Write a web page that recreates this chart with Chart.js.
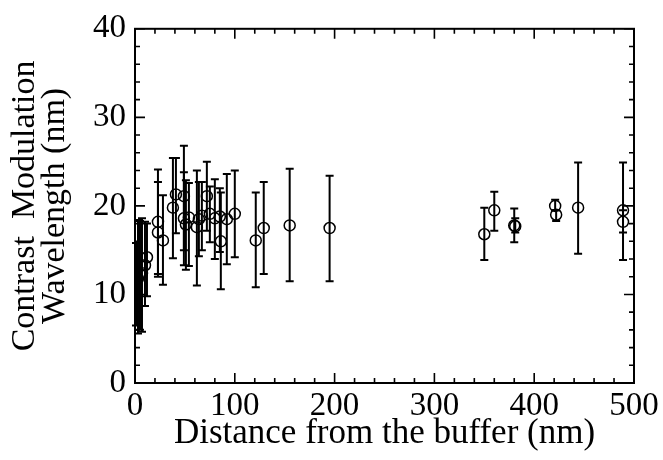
<!DOCTYPE html>
<html>
<head>
<meta charset="utf-8">
<script src="https://cdn.jsdelivr.net/npm/chart.js@4"></script>
<style>
  html, body { margin: 0; padding: 0; background: #fff; }
  #wrap { width: 663px; height: 460px; }
</style>
</head>
<body>
<div id="wrap"><canvas id="chart" width="663" height="460"></canvas></div>
<script>
// Data
const distance = [1, 3, 5, 7, 10, 12, 23, 23, 28, 38, 41, 49, 49, 51, 54, 62, 64, 67, 72, 75,
                  80, 85, 86, 92, 100, 121, 129, 155, 195, 350, 360, 380, 381, 421, 422, 444, 489, 489];
const wavelength = [12.0, 11.8, 12.3, 12.4, 13.3, 14.2, 18.2, 17.0, 16.1, 19.8, 21.3, 21.1, 18.6, 17.9, 18.7, 17.6, 18.5, 18.9, 21.1, 19.1,
                    18.6, 18.8, 16.0, 18.5, 19.1, 16.1, 17.5, 17.8, 17.5, 16.8, 19.5, 17.8, 17.7, 20.0, 19.0, 19.8, 19.5, 18.2];
const errLow = [6.5, 5.6, 6.0, 5.8, 8.7, 9.8, 12.3, 12.0, 11.1, 14.1, 16.9, 15.0, 13.3, 12.8, 13.2, 11.0, 14.3, 15.0, 17.2, 15.9,
                14.0, 14.8, 10.6, 13.4, 14.2, 10.8, 12.3, 11.5, 11.5, 13.9, 17.2, 15.9, 17.0, 19.5, 18.3, 14.6, 17.0, 13.9];
const errHigh = [15.8, 18.4, 18.3, 18.6, 18.2, 18.0, 24.1, 22.7, 21.2, 25.4, 25.4, 26.8, 23.8, 22.9, 22.6, 24.0, 22.7, 22.7, 25.0, 22.2,
                 23.0, 22.0, 21.5, 23.6, 24.0, 21.5, 22.7, 24.2, 23.4, 19.8, 21.6, 19.7, 18.6, 20.7, 19.5, 24.9, 24.9, 19.5];

const xTicks = [0, 100, 200, 300, 400, 500];
const yTicks = [0, 10, 20, 30, 40];
const xMinorStep = 20;
const yMinorStep = 2;

const points = distance.map((x, i) => ({ x: x, y: wavelength[i] }));
const serif = "'Liberation Serif', 'DejaVu Serif', serif";

// error bars, drawn through the chart scales
const errorBars = {
    id: 'errorBars',
    beforeDatasetsDraw(chart) {
        const { ctx, scales: { x, y } } = chart;
        ctx.save();
        ctx.strokeStyle = '#000';
        ctx.lineWidth = 2;
        distance.forEach((d, i) => {
            const px = x.getPixelForValue(d);
            const top = y.getPixelForValue(errHigh[i]);
            const bot = y.getPixelForValue(errLow[i]);
            ctx.beginPath();
            ctx.moveTo(px, top); ctx.lineTo(px, bot);
            ctx.moveTo(px - 4, top); ctx.lineTo(px + 4, top);
            ctx.moveTo(px - 4, bot); ctx.lineTo(px + 4, bot);
            ctx.stroke();
        });
        ctx.restore();
    }
};

// box with inward ticks on all four sides
const frame = {
    id: 'frame',
    afterDraw(chart) {
        const { ctx, chartArea: a, scales: { x, y } } = chart;
        ctx.save();
        ctx.strokeStyle = '#000';
        ctx.lineWidth = 2;
        ctx.strokeRect(a.left, a.top, a.right - a.left, a.bottom - a.top);
        ctx.lineWidth = 1.6;
        ctx.beginPath();
        for (let v = x.min; v <= x.max; v += xMinorStep) {
            const len = xTicks.includes(v) ? 10 : 5;
            const px = x.getPixelForValue(v);
            ctx.moveTo(px, a.bottom); ctx.lineTo(px, a.bottom - len);
            ctx.moveTo(px, a.top); ctx.lineTo(px, a.top + len);
        }
        for (let v = y.min; v <= y.max; v += yMinorStep) {
            const len = yTicks.includes(v) ? 10 : 5;
            const py = y.getPixelForValue(v);
            ctx.moveTo(a.left, py); ctx.lineTo(a.left + len, py);
            ctx.moveTo(a.right, py); ctx.lineTo(a.right - len, py);
        }
        ctx.stroke();
        ctx.restore();
    }
};

new Chart(document.getElementById('chart'), {
    type: 'scatter',
    data: {
        datasets: [{
            data: points,
            pointStyle: 'circle',
            pointRadius: 5.5,
            pointHoverRadius: 5.5,
            pointBorderWidth: 1.5,
            borderColor: '#000',
            backgroundColor: 'rgba(0,0,0,0)'
        }]
    },
    options: {
        responsive: false,
        animation: false,
        events: [],
        layout: { padding: { top: 17, right: 29, left: 0, bottom: 0 } },
        plugins: { legend: { display: false }, tooltip: { enabled: false } },
        scales: {
            x: {
                type: 'linear',
                min: 0, max: 500,
                afterBuildTicks: s => { s.ticks = xTicks.map(v => ({ value: v })); },
                afterFit: s => { s.height = 77; },
                grid: { display: false, drawTicks: false },
                border: { display: false },
                ticks: { color: '#000', padding: 4, maxRotation: 0, font: { family: serif, size: 33 } },
                title: {
                    display: true,
                    text: 'Distance from the buffer (nm)',
                    color: '#000',
                    font: { family: serif, size: 35, lineHeight: 1 },
                    padding: { top: 0, bottom: 9 }
                }
            },
            y: {
                type: 'linear',
                min: 0, max: 40,
                afterBuildTicks: s => { s.ticks = yTicks.map(v => ({ value: v })); },
                afterFit: s => { s.width = 135; },
                grid: { display: false, drawTicks: false },
                border: { display: false },
                ticks: { color: '#000', padding: 9, font: { family: serif, size: 33 } },
                title: {
                    display: true,
                    text: ['Contrast  Modulation', 'Wavelength (nm)'],
                    color: '#000',
                    font: { family: serif, size: 34, lineHeight: 0.88 },
                    padding: { top: 10, bottom: 0 }
                }
            }
        }
    },
    plugins: [errorBars, frame]
});
</script>
</body>
</html>
